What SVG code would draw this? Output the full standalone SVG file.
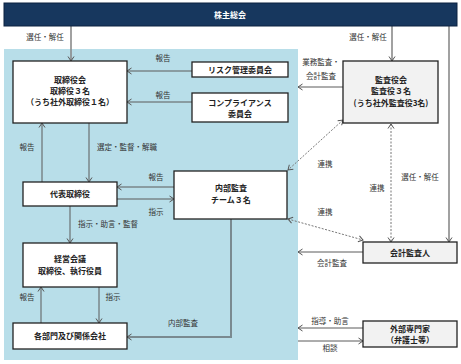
<svg xmlns="http://www.w3.org/2000/svg" width="461" height="364" viewBox="0 0 461 364">
<style>
.box{fill:#fff;stroke:#222;stroke-width:1.3}
.gbox{fill:#f2f2f2;stroke:#222;stroke-width:1.3}
.nt{font-family:"Noto Sans CJK JP","Noto Sans",sans-serif;font-size:8px;font-weight:bold;fill:#222;text-anchor:middle}
.lb{font-family:"Noto Sans CJK JP","Noto Sans",sans-serif;font-size:7.5px;fill:#333;text-anchor:middle}
.ln{fill:none;stroke:#5a5a5a;stroke-width:1;marker-end:url(#arr)}
.thick{fill:none;stroke:#8a8a8a;stroke-width:1.6;marker-end:url(#arr)}
.dash{fill:none;stroke:#777;stroke-width:1;stroke-dasharray:2,1.5;marker-start:url(#arr);marker-end:url(#arr)}
</style>
<defs>
<marker id="arr" markerUnits="userSpaceOnUse" markerWidth="8" markerHeight="8" refX="6" refY="4" orient="auto-start-reverse">
<path d="M1.5,1 L6,4 L1.5,7" fill="none" stroke="#555" stroke-width="1"/>
</marker>
</defs>
<rect x="0" y="0" width="461" height="364" fill="#fff"/>
<rect x="4" y="49" width="294" height="311" fill="#b8dee9"/>

<g id="connectors">
<path class="thick" d="M71,26 V61"/>
<path class="thick" d="M392,26 V61"/>
<path class="thick" d="M449,26 V242"/>
<path class="ln" d="M192,71 H127"/>
<path class="ln" d="M192,102 H127"/>
<path class="ln" d="M343,87 H298"/>
<path class="ln" d="M42,182 V123"/>
<path class="ln" d="M89,123 V182"/>
<path class="ln" d="M174,187 H117"/>
<path class="ln" d="M117,199 H174"/>
<path class="ln" d="M70,206 V243"/>
<path class="ln" d="M99,287 V323"/>
<path class="ln" d="M41,323 V287"/>
<path d="M231,219 V337 H127" fill="none" stroke="#7a8a90" stroke-width="2" marker-end="url(#arr)"/>
<path class="dash" d="M343,120 L288,170"/>
<path class="dash" d="M288,219 L363,240"/>
<path class="dash" d="M391,124 V242"/>
<path class="ln" d="M363,252 H298"/>
<path class="ln" d="M363,328 H298"/>
<path class="ln" d="M298,341 H363"/>
<text class="lb" x="45" y="40">選任・解任</text>
<text class="lb" x="368" y="40">選任・解任</text>
<text class="lb" x="420" y="180">選任・解任</text>
<text class="lb" x="163" y="61">報告</text>
<text class="lb" x="163" y="98">報告</text>
<text class="lb" x="321" y="65">業務監査・</text>
<text class="lb" x="321" y="79">会計監査</text>
<text class="lb" x="27" y="150">報告</text>
<text class="lb" x="127" y="150">選定・監督・解職</text>
<text class="lb" x="156" y="180">報告</text>
<text class="lb" x="156" y="215">指示</text>
<text class="lb" x="325" y="167">連携</text>
<text class="lb" x="377" y="191">連携</text>
<text class="lb" x="325" y="215">連携</text>
<text class="lb" x="108" y="227">指示・助言・監督</text>
<text class="lb" x="332" y="266">会計監査</text>
<text class="lb" x="27" y="300">報告</text>
<text class="lb" x="113" y="300">指示</text>
<text class="lb" x="183" y="326">内部監査</text>
<text class="lb" x="330" y="324">指導・助言</text>
<text class="lb" x="330" y="351">相談</text>
</g>

<g id="shareholders">
<rect x="4" y="3" width="453" height="23" fill="#17375e" stroke="#0d2340" stroke-width="1"/>
<text class="nt" x="230" y="17.5" fill="#fff" style="fill:#fff">株主総会</text>
</g>
<g id="board">
<rect class="box" x="13" y="61" width="114" height="62"/>
<text class="nt" x="70" y="83">取締役会</text>
<text class="nt" x="70" y="94">取締役３名</text>
<text class="nt" x="70" y="105">（うち社外取締役１名）</text>
</g>
<g id="risk">
<rect class="box" x="192" y="62" width="96" height="15"/>
<text class="nt" x="240" y="72.5">リスク管理委員会</text>
</g>
<g id="compliance">
<rect class="box" x="192" y="93" width="96" height="29"/>
<text class="nt" x="240" y="106">コンプライアンス</text>
<text class="nt" x="240" y="117">委員会</text>
</g>
<g id="auditors">
<rect class="gbox" x="343" y="61" width="95" height="62"/>
<text class="nt" x="391" y="83">監査役会</text>
<text class="nt" x="391" y="94">監査役３名</text>
<text class="nt" x="391" y="106">(うち社外監査役3名)</text>
</g>
<g id="ceo">
<rect class="box" x="23" y="182" width="94" height="24"/>
<text class="nt" x="70" y="197">代表取締役</text>
</g>
<g id="internal-audit">
<rect class="box" x="174" y="171" width="113" height="48"/>
<text class="nt" x="231" y="191">内部監査</text>
<text class="nt" x="231" y="203">チーム３名</text>
</g>
<g id="management">
<rect class="box" x="23" y="243" width="94" height="44"/>
<text class="nt" x="70" y="262">経営会議</text>
<text class="nt" x="70" y="274">取締役、執行役員</text>
</g>
<g id="departments">
<rect class="box" x="13" y="323" width="114" height="26"/>
<text class="nt" x="70" y="339">各部門及び関係会社</text>
</g>
<g id="accounting-auditor">
<rect class="gbox" x="363" y="242" width="94" height="21"/>
<text class="nt" x="410" y="255.5">会計監査人</text>
</g>
<g id="experts">
<rect class="gbox" x="363" y="321" width="94" height="26"/>
<text class="nt" x="410" y="332">外部専門家</text>
<text class="nt" x="410" y="343">（弁護士等）</text>
</g>
</svg>
